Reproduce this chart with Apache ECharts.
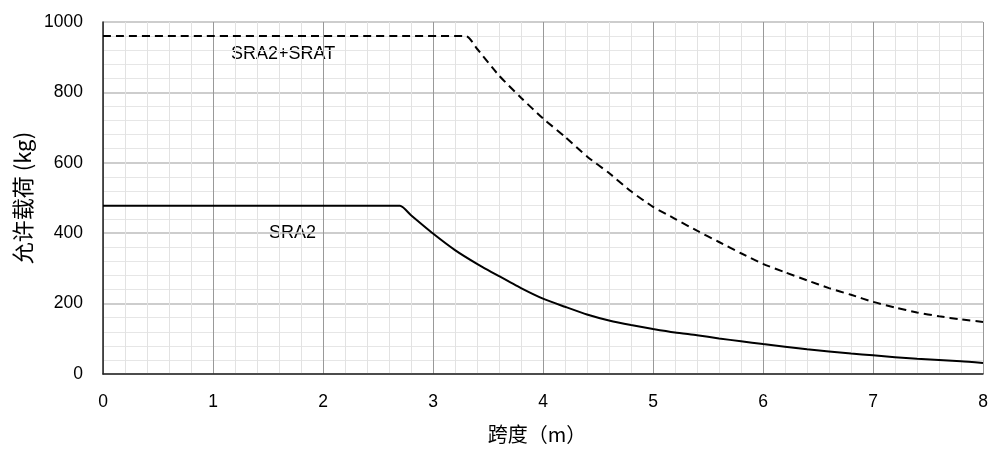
<!DOCTYPE html>
<html><head><meta charset="utf-8">
<script src="https://cdn.jsdelivr.net/npm/echarts@6/dist/echarts.min.js"></script>
<style>html,body{margin:0;padding:0;background:#fff}#c{width:996px;height:449px}</style>
</head><body><div id="c"></div>
<script>
const sra2X = [0, 2.7, 2.8, 3, 3.2, 3.4, 3.6, 3.8, 4, 4.2, 4.4, 4.6, 4.8, 5, 5.2, 5.4, 5.6, 5.8, 6, 6.4, 6.8, 7, 7.4, 7.8, 8];
const sra2Y = [478, 478, 451, 399, 352, 313, 278, 244, 214, 191, 169, 152, 139, 128, 118, 110, 101, 93, 85, 70, 58, 53, 43, 36, 31];
const sratX = [0, 3.3, 3.4, 3.6, 3.8, 4, 4.2, 4.4, 4.6, 4.8, 5, 5.2, 5.4, 5.6, 5.8, 6, 6.2, 6.4, 6.6, 6.8, 7, 7.2, 7.4, 7.6, 7.8, 8];
const sratY = [960, 960, 924, 848, 785, 726, 674, 618, 571, 519, 475, 441, 407, 375, 343, 313, 289, 266, 244, 225, 205, 189, 175, 164, 155, 148];
const xTicks = [0, 1, 2, 3, 4, 5, 6, 7, 8];
const yTicks = [0, 200, 400, 600, 800, 1000];
const seriesNames = ['SRA2', 'SRA2+SRAT'];
const xName = '跨度（m）';
const yName = '允许载荷 (kg)';

const FONT = '"Liberation Sans", Arial, "Noto Sans CJK SC", sans-serif';
const CJK = '"Noto Sans CJK SC", "Liberation Sans", sans-serif';
const chart = echarts.init(document.getElementById('c'));
const zip = (xs, ys) => xs.map((x, i) => [x, ys[i]]);
chart.setOption({
  animation: false,
  grid: { left: 103, right: 13, top: 22, bottom: 73 },
  xAxis: {
    type: 'value', min: xTicks[0], max: xTicks[xTicks.length - 1], interval: 1,
    name: xName, nameLocation: 'middle', nameGap: 50,
    nameTextStyle: { fontSize: 20, color: '#000', fontFamily: CJK, padding: [0, 12, 0, 0] },
    axisLine: { show: true, onZero: false, lineStyle: { color: '#222', width: 1.5 } },
    axisTick: { show: false },
    axisLabel: { fontSize: 17.5, color: '#000', fontFamily: FONT, margin: 19, formatter: v => String(v) },
    splitLine: { show: true, lineStyle: { color: '#999', width: 1 } },
    minorTick: { show: false, splitNumber: 5 },
    minorSplitLine: { show: true, lineStyle: { color: '#e2e2e2', width: 1 } }
  },
  yAxis: {
    type: 'value', min: yTicks[0], max: yTicks[yTicks.length - 1], interval: 200,
    name: yName, nameLocation: 'middle', nameGap: 68, nameRotate: 90,
    nameTextStyle: { fontSize: 22, color: '#000', fontFamily: CJK },
    axisLine: { show: true, lineStyle: { color: '#222', width: 1.5 } },
    axisTick: { show: false },
    axisLabel: { fontSize: 17.5, color: '#000', fontFamily: FONT, margin: 20, formatter: v => String(v) },
    splitLine: { show: true, lineStyle: { color: '#bdbdbd', width: 1.5 } },
    minorTick: { show: false, splitNumber: 5 },
    minorSplitLine: { show: true, lineStyle: { color: '#e6e6e6', width: 1 } }
  },
  series: [
    {
      name: seriesNames[0], type: 'line', data: zip(sra2X, sra2Y),
      showSymbol: false, smooth: 0.2,
      lineStyle: { color: '#000', width: 2 }
    },
    {
      name: seriesNames[1], type: 'line', data: zip(sratX, sratY),
      showSymbol: false, smooth: 0.2,
      lineStyle: { color: '#000', width: 2, type: [8, 5] }
    }
  ],
  graphic: [
    { type: 'text', left: 231, top: 45, style: { text: seriesNames[1], font: '18px ' + FONT, fill: '#000' } },
    { type: 'text', left: 269, top: 224, style: { text: seriesNames[0], font: '18px ' + FONT, fill: '#000' } }
  ]
});
</script></body></html>
